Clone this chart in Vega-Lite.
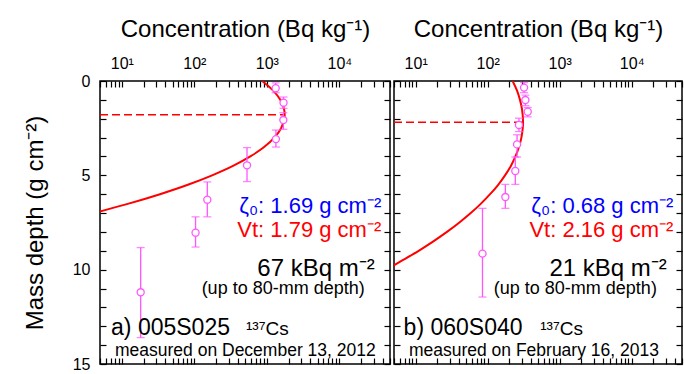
{
  "$schema": "https://vega.github.io/schema/vega-lite/v6.json",
  "background": "white",
  "padding": {"left": 22, "top": 16, "right": 9, "bottom": 11},
  "spacing": 0,
  "config": {
    "view": {"stroke": "black", "strokeWidth": 1.5},
    "font": "Liberation Sans",
    "axis": {"domain": false, "grid": false, "labelFont": "Liberation Sans", "labelFontSize": 16, "labelColor": "black", "titleFont": "Liberation Sans", "titleFontSize": 24, "titleFontWeight": "normal", "titleColor": "black", "labelOverlap": false, "labelFlush": false}
  },
  "datasets": {
    "curveA": [
      {"d": 0, "c": 861}, {"d": 0.5, "c": 1216}, {"d": 1.0, "c": 1533}, {"d": 1.5, "c": 1730}, {"d": 1.79, "c": 1762}, {"d": 2.0, "c": 1745}, {"d": 2.5, "c": 1574}, {"d": 3.0, "c": 1270}, {"d": 3.5, "c": 917}, {"d": 4.0, "c": 592}, {"d": 4.5, "c": 342}, {"d": 5.0, "c": 176}, {"d": 5.5, "c": 81.5}, {"d": 6.0, "c": 33.6}, {"d": 6.5, "c": 12.4}, {"d": 7.0, "c": 4.1}
    ],
    "curveB": [
      {"d": 0, "c": 222}, {"d": 0.5, "c": 255}, {"d": 1.0, "c": 281}, {"d": 1.5, "c": 300}, {"d": 2.16, "c": 310}, {"d": 2.5, "c": 307}, {"d": 3.0, "c": 294}, {"d": 3.5, "c": 272}, {"d": 4.0, "c": 243}, {"d": 4.5, "c": 210}, {"d": 5.0, "c": 174}, {"d": 5.5, "c": 140}, {"d": 6.0, "c": 108}, {"d": 6.5, "c": 80.7}, {"d": 7.0, "c": 58.2}, {"d": 7.5, "c": 40.5}, {"d": 8.0, "c": 27.2}, {"d": 8.5, "c": 17.6}, {"d": 9.0, "c": 11.0}, {"d": 9.5, "c": 6.6}, {"d": 10.0, "c": 3.9}
    ],
    "ptsA": [
      {"c": 1325, "d": 0.38, "lo": 0.1, "hi": 0.62},
      {"c": 1700, "d": 1.15, "lo": 0.85, "hi": 1.45},
      {"c": 1690, "d": 2.07, "lo": 1.68, "hi": 2.56},
      {"c": 1335, "d": 3.08, "lo": 2.6, "hi": 3.5},
      {"c": 533, "d": 4.47, "lo": 3.53, "hi": 5.33},
      {"c": 151, "d": 6.29, "lo": 5.35, "hi": 7.2},
      {"c": 104, "d": 8.04, "lo": 7.2, "hi": 8.8},
      {"c": 18.2, "d": 11.2, "lo": 8.83, "hi": 13.6}
    ],
    "ptsB": [
      {"c": 320, "d": 0.35, "lo": 0.08, "hi": 0.62},
      {"c": 334, "d": 1.01, "lo": 0.75, "hi": 1.3},
      {"c": 360, "d": 1.63, "lo": 1.4, "hi": 1.9},
      {"c": 272, "d": 2.33, "lo": 1.97, "hi": 2.68},
      {"c": 256, "d": 3.36, "lo": 2.85, "hi": 4.03},
      {"c": 242, "d": 4.77, "lo": 4.03, "hi": 5.48},
      {"c": 176, "d": 6.15, "lo": 5.48, "hi": 6.75},
      {"c": 84.7, "d": 9.15, "lo": 6.75, "hi": 11.45}
    ]
  },
  "hconcat": [
    {
      "width": 290, "height": 283,
      "resolve": {"axis": {"x": "independent", "y": "independent"}},
      "layer": [
        {
          "data": {"name": "curveA"},
          "mark": {"type": "line", "color": "#ff0000", "strokeWidth": 2, "clip": true, "interpolate": "catmull-rom"},
          "encoding": {
            "x": {"field": "c", "type": "quantitative", "scale": {"type": "log", "domain": [5, 50000], "nice": false},
              "axis": {"orient": "top", "values": [5,6,7,8,9,10,20,30,40,50,60,70,80,90,100,200,300,400,500,600,700,800,900,1000,2000,3000,4000,5000,6000,7000,8000,9000,10000,20000,30000,40000,50000],
                "tickSize": -6, "tickColor": "black", "tickWidth": 1.2, "labelPadding": 16,
                "labelExpr": "datum.value == 10 ? '10¹' : datum.value == 100 ? '10²' : datum.value == 1000 ? '10³' : datum.value == 10000 ? '10⁴' : ''",
                "title": "Concentration (Bq kg⁻¹)", "titlePadding": 14}},
            "y": {"field": "d", "type": "quantitative", "scale": {"domain": [0, 15], "reverse": true, "nice": false, "zero": false},
              "axis": {"orient": "left", "values": [0,1,2,3,4,5,6,7,8,9,10,11,12,13,14,15],
                "tickSize": -6, "tickColor": "black", "tickWidth": 1.2, "labelPadding": 16,
                "labelExpr": "datum.value % 5 == 0 ? datum.label : ''",
                "title": "Mass depth (g cm⁻²)", "titlePadding": 25}},
            "order": {"field": "d"}
          }
        },
        {
          "data": {"values": [{"x1": 5, "x2": 1762, "d": 1.79}]},
          "mark": {"type": "rule", "color": "#ff0000", "strokeWidth": 1.5, "strokeDash": [8, 4]},
          "encoding": {
            "x": {"field": "x1", "type": "quantitative",
              "axis": {"orient": "bottom", "values": [5,6,7,8,9,10,20,30,40,50,60,70,80,90,100,200,300,400,500,600,700,800,900,1000,2000,3000,4000,5000,6000,7000,8000,9000,10000,20000,30000,40000,50000],
                "tickSize": -6, "tickColor": "black", "tickWidth": 1.2, "labels": false, "title": null}},
            "x2": {"field": "x2"},
            "y": {"field": "d", "type": "quantitative",
              "axis": {"orient": "right", "values": [0,1,2,3,4,5,6,7,8,9,10,11,12,13,14,15],
                "tickSize": -6, "tickColor": "black", "tickWidth": 1.2, "labels": false, "title": null}}
          }
        },
        {
          "data": {"name": "ptsA"},
          "mark": {"type": "rule", "color": "#ff55ff", "strokeWidth": 1.3},
          "encoding": {"x": {"field": "c", "type": "quantitative", "axis": null}, "y": {"field": "lo", "type": "quantitative", "axis": null}, "y2": {"field": "hi"}}
        },
        {
          "data": {"name": "ptsA"},
          "mark": {"type": "tick", "orient": "horizontal", "color": "#ff55ff", "size": 8, "thickness": 1.3},
          "encoding": {"x": {"field": "c", "type": "quantitative", "axis": null}, "y": {"field": "lo", "type": "quantitative", "axis": null}}
        },
        {
          "data": {"name": "ptsA"},
          "mark": {"type": "tick", "orient": "horizontal", "color": "#ff55ff", "size": 8, "thickness": 1.3},
          "encoding": {"x": {"field": "c", "type": "quantitative", "axis": null}, "y": {"field": "hi", "type": "quantitative", "axis": null}}
        },
        {
          "data": {"name": "ptsA"},
          "mark": {"type": "point", "shape": "circle", "filled": false, "fill": "white", "stroke": "#ff55ff", "strokeWidth": 1.3, "size": 50, "opacity": 1},
          "encoding": {"x": {"field": "c", "type": "quantitative", "axis": null}, "y": {"field": "d", "type": "quantitative", "axis": null}}
        },
        {
          "data": {"values": [{"t": "ζ₀: 1.69 g cm⁻²", "c": 37900, "d": 7.0}]},
          "mark": {"type": "text", "align": "right", "baseline": "alphabetic", "fontSize": 22, "color": "#0000ff"},
          "encoding": {"x": {"field": "c", "type": "quantitative", "axis": null}, "y": {"field": "d", "type": "quantitative", "axis": null}, "text": {"field": "t"}}
        },
        {
          "data": {"values": [{"t": "Vt: 1.79 g cm⁻²", "c": 37900, "d": 8.25}]},
          "mark": {"type": "text", "align": "right", "baseline": "alphabetic", "fontSize": 22, "color": "#ff0000"},
          "encoding": {"x": {"field": "c", "type": "quantitative", "axis": null}, "y": {"field": "d", "type": "quantitative", "axis": null}, "text": {"field": "t"}}
        },
        {
          "data": {"values": [{"t": "67 kBq m⁻²", "c": 30760, "d": 10.33}]},
          "mark": {"type": "text", "align": "right", "baseline": "alphabetic", "fontSize": 24, "color": "black"},
          "encoding": {"x": {"field": "c", "type": "quantitative", "axis": null}, "y": {"field": "d", "type": "quantitative", "axis": null}, "text": {"field": "t"}}
        },
        {
          "data": {"values": [{"t": "(up to 80-mm depth)", "c": 22390, "d": 11.3}]},
          "mark": {"type": "text", "align": "right", "baseline": "alphabetic", "fontSize": 18, "color": "black"},
          "encoding": {"x": {"field": "c", "type": "quantitative", "axis": null}, "y": {"field": "d", "type": "quantitative", "axis": null}, "text": {"field": "t"}}
        },
        {
          "data": {"values": [{"t": "a) 005S025", "c": 7.1, "d": 13.45}]},
          "mark": {"type": "text", "align": "left", "baseline": "alphabetic", "fontSize": 23, "color": "black"},
          "encoding": {"x": {"field": "c", "type": "quantitative", "axis": null}, "y": {"field": "d", "type": "quantitative", "axis": null}, "text": {"field": "t"}}
        },
        {
          "data": {"values": [{"t": "¹³⁷Cs", "c": 516, "d": 13.45}]},
          "mark": {"type": "text", "align": "left", "baseline": "alphabetic", "fontSize": 19, "color": "black"},
          "encoding": {"x": {"field": "c", "type": "quantitative", "axis": null}, "y": {"field": "d", "type": "quantitative", "axis": null}, "text": {"field": "t"}}
        },
        {
          "data": {"values": [{"t": "measured on December 13, 2012", "c": 8.05, "d": 14.55}]},
          "mark": {"type": "text", "align": "left", "baseline": "alphabetic", "fontSize": 17.5, "color": "black"},
          "encoding": {"x": {"field": "c", "type": "quantitative", "axis": null}, "y": {"field": "d", "type": "quantitative", "axis": null}, "text": {"field": "t"}}
        }
      ]
    },
    {
      "width": 288, "height": 283,
      "resolve": {"axis": {"x": "independent", "y": "independent"}},
      "layer": [
        {
          "data": {"name": "curveB"},
          "mark": {"type": "line", "color": "#ff0000", "strokeWidth": 2, "clip": true, "interpolate": "catmull-rom"},
          "encoding": {
            "x": {"field": "c", "type": "quantitative", "scale": {"type": "log", "domain": [5, 50000], "nice": false},
              "axis": {"orient": "top", "values": [5,6,7,8,9,10,20,30,40,50,60,70,80,90,100,200,300,400,500,600,700,800,900,1000,2000,3000,4000,5000,6000,7000,8000,9000,10000,20000,30000,40000,50000],
                "tickSize": -6, "tickColor": "black", "tickWidth": 1.2, "labelPadding": 16,
                "labelExpr": "datum.value == 10 ? '10¹' : datum.value == 100 ? '10²' : datum.value == 1000 ? '10³' : datum.value == 10000 ? '10⁴' : ''",
                "title": "Concentration (Bq kg⁻¹)", "titlePadding": 14}},
            "y": {"field": "d", "type": "quantitative", "scale": {"domain": [0, 15], "reverse": true, "nice": false, "zero": false},
              "axis": {"orient": "left", "values": [0,1,2,3,4,5,6,7,8,9,10,11,12,13,14,15],
                "tickSize": -6, "tickColor": "black", "tickWidth": 1.2, "labels": false, "title": null}},
            "order": {"field": "d"}
          }
        },
        {
          "data": {"values": [{"x1": 5, "x2": 310, "d": 2.18}]},
          "mark": {"type": "rule", "color": "#ff0000", "strokeWidth": 1.5, "strokeDash": [8, 4]},
          "encoding": {
            "x": {"field": "x1", "type": "quantitative",
              "axis": {"orient": "bottom", "values": [5,6,7,8,9,10,20,30,40,50,60,70,80,90,100,200,300,400,500,600,700,800,900,1000,2000,3000,4000,5000,6000,7000,8000,9000,10000,20000,30000,40000,50000],
                "tickSize": -6, "tickColor": "black", "tickWidth": 1.2, "labels": false, "title": null}},
            "x2": {"field": "x2"},
            "y": {"field": "d", "type": "quantitative",
              "axis": {"orient": "right", "values": [0,1,2,3,4,5,6,7,8,9,10,11,12,13,14,15],
                "tickSize": -6, "tickColor": "black", "tickWidth": 1.2, "labels": false, "title": null}}
          }
        },
        {
          "data": {"name": "ptsB"},
          "mark": {"type": "rule", "color": "#ff55ff", "strokeWidth": 1.3},
          "encoding": {"x": {"field": "c", "type": "quantitative", "axis": null}, "y": {"field": "lo", "type": "quantitative", "axis": null}, "y2": {"field": "hi"}}
        },
        {
          "data": {"name": "ptsB"},
          "mark": {"type": "tick", "orient": "horizontal", "color": "#ff55ff", "size": 8, "thickness": 1.3},
          "encoding": {"x": {"field": "c", "type": "quantitative", "axis": null}, "y": {"field": "lo", "type": "quantitative", "axis": null}}
        },
        {
          "data": {"name": "ptsB"},
          "mark": {"type": "tick", "orient": "horizontal", "color": "#ff55ff", "size": 8, "thickness": 1.3},
          "encoding": {"x": {"field": "c", "type": "quantitative", "axis": null}, "y": {"field": "hi", "type": "quantitative", "axis": null}}
        },
        {
          "data": {"name": "ptsB"},
          "mark": {"type": "point", "shape": "circle", "filled": false, "fill": "white", "stroke": "#ff55ff", "strokeWidth": 1.3, "size": 50, "opacity": 1},
          "encoding": {"x": {"field": "c", "type": "quantitative", "axis": null}, "y": {"field": "d", "type": "quantitative", "axis": null}}
        },
        {
          "data": {"values": [{"t": "ζ₀: 0.68 g cm⁻²", "c": 37900, "d": 7.0}]},
          "mark": {"type": "text", "align": "right", "baseline": "alphabetic", "fontSize": 22, "color": "#0000ff"},
          "encoding": {"x": {"field": "c", "type": "quantitative", "axis": null}, "y": {"field": "d", "type": "quantitative", "axis": null}, "text": {"field": "t"}}
        },
        {
          "data": {"values": [{"t": "Vt: 2.16 g cm⁻²", "c": 37900, "d": 8.25}]},
          "mark": {"type": "text", "align": "right", "baseline": "alphabetic", "fontSize": 22, "color": "#ff0000"},
          "encoding": {"x": {"field": "c", "type": "quantitative", "axis": null}, "y": {"field": "d", "type": "quantitative", "axis": null}, "text": {"field": "t"}}
        },
        {
          "data": {"values": [{"t": "21 kBq m⁻²", "c": 30760, "d": 10.33}]},
          "mark": {"type": "text", "align": "right", "baseline": "alphabetic", "fontSize": 24, "color": "black"},
          "encoding": {"x": {"field": "c", "type": "quantitative", "axis": null}, "y": {"field": "d", "type": "quantitative", "axis": null}, "text": {"field": "t"}}
        },
        {
          "data": {"values": [{"t": "(up to 80-mm depth)", "c": 22390, "d": 11.3}]},
          "mark": {"type": "text", "align": "right", "baseline": "alphabetic", "fontSize": 18, "color": "black"},
          "encoding": {"x": {"field": "c", "type": "quantitative", "axis": null}, "y": {"field": "d", "type": "quantitative", "axis": null}, "text": {"field": "t"}}
        },
        {
          "data": {"values": [{"t": "b) 060S040", "c": 6.8, "d": 13.45}]},
          "mark": {"type": "text", "align": "left", "baseline": "alphabetic", "fontSize": 23, "color": "black"},
          "encoding": {"x": {"field": "c", "type": "quantitative", "axis": null}, "y": {"field": "d", "type": "quantitative", "axis": null}, "text": {"field": "t"}}
        },
        {
          "data": {"values": [{"t": "¹³⁷Cs", "c": 538, "d": 13.45}]},
          "mark": {"type": "text", "align": "left", "baseline": "alphabetic", "fontSize": 19, "color": "black"},
          "encoding": {"x": {"field": "c", "type": "quantitative", "axis": null}, "y": {"field": "d", "type": "quantitative", "axis": null}, "text": {"field": "t"}}
        },
        {
          "data": {"values": [{"t": "measured on February 16, 2013", "c": 8.05, "d": 14.55}]},
          "mark": {"type": "text", "align": "left", "baseline": "alphabetic", "fontSize": 17.5, "color": "black"},
          "encoding": {"x": {"field": "c", "type": "quantitative", "axis": null}, "y": {"field": "d", "type": "quantitative", "axis": null}, "text": {"field": "t"}}
        }
      ]
    }
  ]
}
